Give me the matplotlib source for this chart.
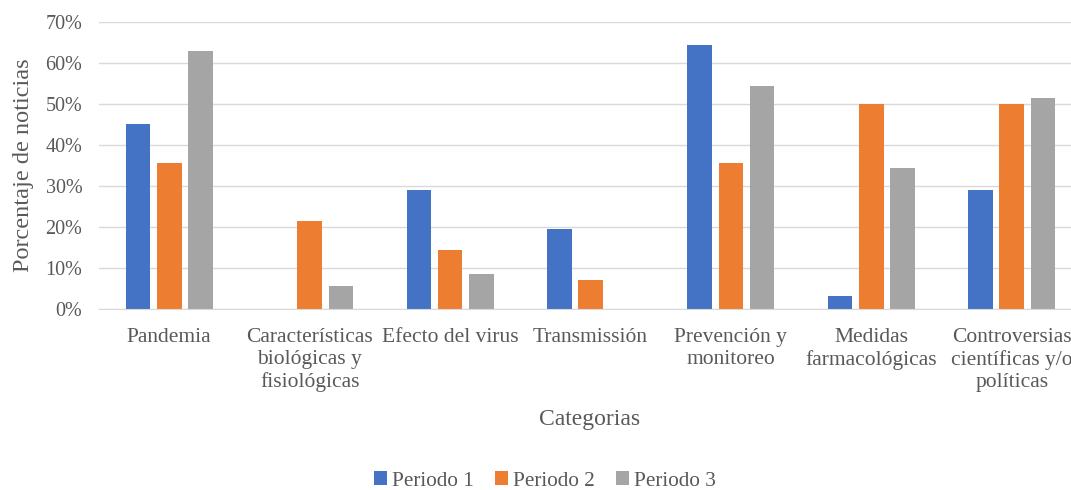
import numpy as np
import matplotlib.pyplot as plt
from matplotlib.ticker import PercentFormatter

categorias = ['Pandemia', 'Características\nbiológicas y\nfisiológicas',
              'Efecto del virus', 'Transmissión', 'Prevención y\nmonitoreo',
              'Medidas\nfarmacológicas',
              'Controversias\ncientíficas y/o\npolíticas']
periodo_1 = [45.2, 0, 29.0, 19.4, 64.5, 3.2, 29.0]
periodo_2 = [35.7, 21.4, 14.3, 7.1, 35.7, 50.0, 50.0]
periodo_3 = [62.9, 5.7, 8.6, 0, 54.3, 34.3, 51.4]
series = ['Periodo 1', 'Periodo 2', 'Periodo 3']
colores = ['#4472C4', '#ED7D31', '#A5A5A5']
gris = '#595959'

plt.rcParams['font.family'] = ['Liberation Serif', 'DejaVu Serif']

fig = plt.figure(figsize=(10.71, 4.9), dpi=100)
ax = fig.add_axes([99 / 1071, 1 - 309 / 490, 983 / 1071, 287 / 490])

x = np.arange(len(categorias))
ancho = 0.175
paso = 0.222
for i, (vals, nombre) in enumerate(zip([periodo_1, periodo_2, periodo_3], series)):
    ax.bar(x + (i - 1) * paso, vals, ancho, color=colores[i], label=nombre,
           zorder=3)

ax.set_xlim(-0.5, len(categorias) - 0.5)
ax.set_ylim(0, 70)
ax.set_yticks(range(0, 71, 10))
ax.yaxis.set_major_formatter(PercentFormatter(decimals=0))
ax.set_xticks(x)
ax.set_xticklabels(categorias, linespacing=1.2)
ax.tick_params(axis='both', length=0, colors=gris)
ax.tick_params(axis='x', labelsize=15.5, pad=14)
ax.tick_params(axis='y', labelsize=14.5, pad=12)
ax.grid(axis='y', color='#D9D9D9', linewidth=1, zorder=0)
for s in ['top', 'right', 'left']:
    ax.spines[s].set_visible(False)
ax.spines['bottom'].set_color('#D9D9D9')
ax.spines['bottom'].set_zorder(4)

ax.set_ylabel('Porcentaje de noticias', fontsize=17.5, color=gris, labelpad=8)
fig.text(590 / 1071, 1 - 419 / 490, 'Categorias', fontsize=17, color=gris,
         ha='center', va='center')

fig.legend(loc='center', bbox_to_anchor=(545 / 1071, 1 - 481 / 490), ncol=3,
           frameon=False, fontsize=15.3, handlelength=0.6, handleheight=0.6,
           handletextpad=0.25, columnspacing=1.0, labelcolor=gris)

fig.savefig('out.png', dpi=100)
